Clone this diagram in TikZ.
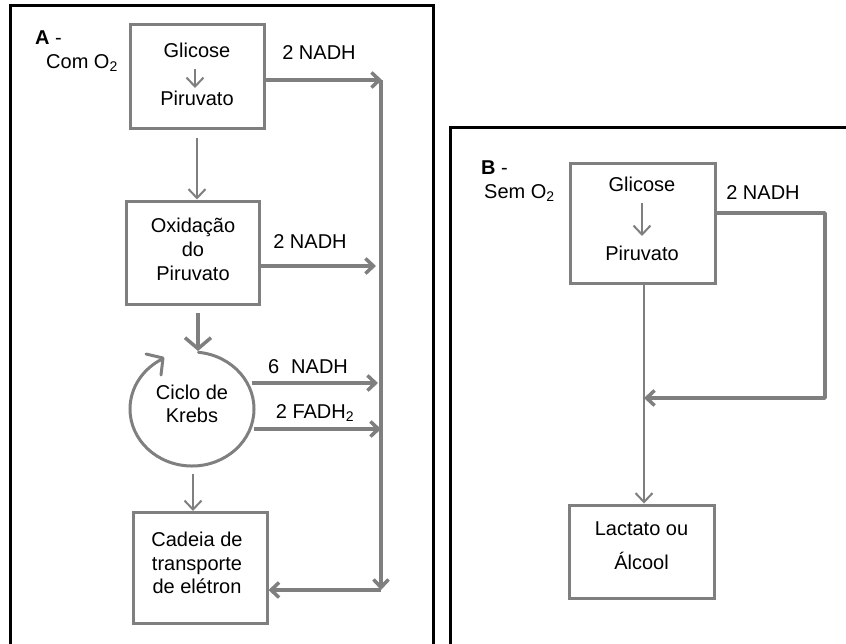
\documentclass[tikz,border=0pt]{standalone}
\usepackage{fontspec}
\setmainfont{Liberation Sans}
\usetikzlibrary{arrows.meta}
\definecolor{ln}{HTML}{7F7F7F}
\tikzset{
  >={Straight Barb[length=8pt,width=15pt]},
  box/.style={draw=ln, line width=3pt, inner sep=0pt},
  txt/.style={inner sep=0pt, align=center, font=\fontsize{20}{24}\selectfont},
  thickarrow/.style={draw=ln, line width=3.5pt, ->},
  thinarrow/.style={draw=ln, line width=2pt, -{Straight Barb[length=9pt,width=17pt]}},
  frame/.style={draw=black, line width=3pt}
}
\begin{document}
\begin{tikzpicture}[x=1pt,y=-1pt]
\useasboundingbox (0,0) rectangle (846,643);
% frames
\draw[frame] (10,660) -- (10,5) -- (433,5) -- (433,660);
\draw[frame] (450,660) -- (450,127) -- (870,127);

% ---- Panel A ----
\node[txt, anchor=west] (la) at (35,38) {\textbf{A} -};
\node[txt, anchor=west] (lacom) at (46,63) {Com O\textsubscript{2}};

\node[box, minimum width=134pt, minimum height=104pt] (g1) at (197,76) {};
\node[txt] (g1a) at (197,50) {Glicose};
\node[txt] (g1b) at (197,98) {Piruvato};
\coordinate (g1s) at (195,69);
\coordinate (g1e) at (195,88);
\draw[thinarrow] (g1s) -- (g1e);

\node[box, minimum width=133pt, minimum height=103pt] (ox) at (192.5,252.5) {};
\node[txt, font=\fontsize{20}{24}\selectfont] (oxt) at (193,249) {Oxidação\\do\\Piruvato};

\coordinate (kc) at (192,409);
\node[txt, font=\fontsize{20}{23}\selectfont] (kt) at (192,404) {Ciclo de\\Krebs};
\draw[draw=ln, line width=3pt, line cap=round] (kc) ++(84:62pt and 57pt)
  arc[start angle=84, end angle=-241, x radius=62pt, y radius=57pt];
\coordinate (khead) at (163,358);
\draw[draw=ln, line width=3pt, line cap=round, line join=round] (146,354) -- (khead) -- (161,375);
\coordinate (ktop) at (198,351);
\coordinate (kbot) at (193,474);

\node[box, minimum width=134pt, minimum height=111pt] (cad) at (200,568) {};
\node[txt, font=\fontsize{20}{23.5}\selectfont] (cadt) at (197,563) {Cadeia de\\transporte\\de elétron};

% vertical flow
\draw[thinarrow] (g1.south |- 0,138) -- (ox.north -| g1.south);
\coordinate (oxb) at (198,313);
\draw[line width=3.5pt, draw=ln, -{Straight Barb[length=11pt,width=26pt]}] (oxb) -- (ktop);
\draw[thinarrow] (kbot) -- (cad.north -| kbot);

% NADH labels
\node[txt] (n1) at (319,53) {2 NADH};
\node[txt] (n2) at (310,242) {2 NADH};
\node[txt] (n3) at (308,367) {6\hspace{0.6em}NADH};
\node[txt] (n4) at (315,413) {2 FADH\textsubscript{2}};

% trunk
\coordinate (t1) at (382,80);
\coordinate (t2) at (376,266);
\coordinate (t3) at (378,383);
\coordinate (t4) at (381,429);
\coordinate (tb) at (381,590);
\coordinate (kr1) at (252,383);
\coordinate (kr2) at (254,429);
\draw[thickarrow] (g1.east |- t1) -- (t1);
\draw[thickarrow] (381,80) -- (tb);
\draw[thickarrow] (ox.east |- t2) -- (t2);
\draw[thickarrow] (kr1) -- (t3);
\draw[thickarrow] (kr2) -- (t4);
\draw[thickarrow] (tb) -- (cad.east |- tb);

% ---- Panel B ----
\node[txt, anchor=west] (lb) at (481,168) {\textbf{B} -};
\node[txt, anchor=west] (lbsem) at (484,193) {Sem O\textsubscript{2}};

\node[box, minimum width=145pt, minimum height=120pt] (b1) at (642.5,223) {};
\node[txt] (b1a) at (642,184) {Glicose};
\node[txt] (b1b) at (642,253) {Piruvato};
\coordinate (b1s) at (642,203);
\coordinate (b1e) at (642,236);
\draw[thinarrow] (b1s) -- (b1e);

\node[txt] (n5) at (763,193) {2 NADH};

\node[box, minimum width=145pt, minimum height=93pt] (lac) at (641.5,551.5) {};
\node[txt, font=\fontsize{20}{34}\selectfont] (lact) at (641.5,546) {Lactato ou\\Álcool};

\coordinate (r1) at (825,213);
\coordinate (r2) at (825,398);
\coordinate (r3) at (644,398);
\draw[draw=ln, line width=3.5pt, ->, line join=round] (b1.east |- r1) -- (r1) -- (r2) -- (r3);
\coordinate (b1bot) at (644,283);
\draw[thinarrow] (b1bot) -- (lac.north -| b1bot);
\end{tikzpicture}
\end{document}
